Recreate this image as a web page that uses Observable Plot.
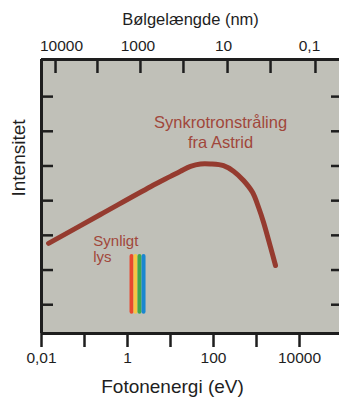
<!DOCTYPE html>
<html><head><meta charset="utf-8">
<script src="https://cdn.jsdelivr.net/npm/d3@7"></script>
<script src="https://cdn.jsdelivr.net/npm/@observablehq/plot@0.6"></script>
<style>html,body{margin:0;padding:0;background:#fff} svg{display:block}</style>
</head><body><div id="chart"></div>
<script>
// Bottom axis: photon energy (eV), log scale
const bottomTicks = [0.01, 0.1, 1, 10, 100, 1000, 10000];
const bottomLabels = ["0,01", "", "1", "", "100", "", "10000"];
// Top axis: wavelength (nm) ticks, positioned in eV as pictured
const topTicks = [0.0212, 0.2, 2, 20, 212, 2120, 23500];
const topLabelPos = [0.0292, 1.75, 171, 17100];
const topLabels = ["10000", "1000", "10", "0,1"];
const yTicks = [1, 2, 3, 4, 5, 6, 7];

// Synchrotron spectrum (arbitrary intensity)
const curveEv = [0.0146, 0.235, 3.43, 10, 17.1, 29.2, 49.9, 85.1, 171, 292, 499, 807, 1114, 1455, 2118, 2767];
const curveIntensity = [2.77, 3.60, 4.40, 4.70, 4.85, 4.99, 5.06, 5.06, 5.01, 4.85, 4.58, 4.24, 3.81, 3.38, 2.66, 2.13];

// Visible light bars
const visEv = [1.24, 1.53, 1.90, 2.36];
const visColors = ["#e8492f", "#f6c644", "#3ea84f", "#1a87d0"];
const visLow = [0.78, 0.78, 0.78, 0.78];
const visHigh = [2.39, 2.39, 2.39, 2.39];

// Annotations
const synchText = "Synkrotronstråling\nfra Astrid";
const synchEv = 146, synchY = 5.53;
const visText = "Synligt\nlys";
const visTextEv = 0.16, visTextY = 2.22;

const xDomain = [0.01, 85100];
const yDomain = [0.17, 8.07];
const bg = "#c0c0b8";
const ink = "#1e1e1e";
const brown = "#953b2f";
const noteColor = "#a0473b";

const curve = curveEv.map((e, i) => ({e, v: curveIntensity[i]}));
const vis = visEv.map((e, i) => ({e, c: visColors[i], lo: visLow[i], hi: visHigh[i]}));

const plot = Plot.plot({
  width: 339, height: 400,
  marginLeft: 41, marginRight: 0, marginTop: 59, marginBottom: 67,
  style: {fontFamily: "'Liberation Sans', Arial, sans-serif", background: "#fff", overflow: "visible", color: ink},
  x: {type: "log", domain: xDomain, axis: null},
  y: {domain: yDomain, axis: null},
  marks: [
    Plot.frame({fill: bg, stroke: null}),
    Plot.axisY(yTicks, {anchor: "left", tickSize: 12, dx: 12, fill: "none", strokeWidth: 2.5, stroke: ink, label: null}),
    Plot.axisY(yTicks, {anchor: "right", tickSize: 9, dx: -9, fill: "none", strokeWidth: 2.5, stroke: ink, label: null}),
    Plot.axisX(topTicks, {anchor: "top", tickSize: 13, dy: 13, fill: "none", strokeWidth: 2.5, stroke: ink, label: null}),
    Plot.text(topLabelPos, {x: d => d, text: d => topLabels[topLabelPos.indexOf(d)], frameAnchor: "top", dy: -9, lineAnchor: "bottom", fontSize: 15.5, fill: ink}),
    Plot.axisX(bottomTicks, {anchor: "bottom", tickSize: 14, tickPadding: 4, tickFormat: d => bottomLabels[bottomTicks.indexOf(d)], fontSize: 15.5, strokeWidth: 2.5, stroke: ink, fill: ink, label: null}),
    Plot.ruleX([xDomain[0]], {stroke: ink, strokeWidth: 3}),
    Plot.ruleY(yDomain, {stroke: ink, strokeWidth: 3}),
    Plot.ruleX(vis, {x: "e", y1: "lo", y2: "hi", stroke: "c", strokeWidth: 4, strokeLinecap: "round"}),
    Plot.line(curve, {x: "e", y: "v", stroke: brown, strokeWidth: 5, strokeLinecap: "round", strokeLinejoin: "round", curve: "catmull-rom"}),
    Plot.text([synchText], {x: () => synchEv, y: () => synchY, text: d => d, textAnchor: "middle", lineAnchor: "bottom", lineHeight: 1.18, fontSize: 16.5, fill: noteColor}),
    Plot.text([visText], {x: () => visTextEv, y: () => visTextY, text: d => d, textAnchor: "start", lineAnchor: "bottom", lineHeight: 1.1, fontSize: 15, fill: noteColor}),
    Plot.text(["Bølgelængde (nm)"], {text: d => d, frameAnchor: "top", dy: -35, lineAnchor: "bottom", fontSize: 16.5, fill: ink}),
    Plot.text(["Fotonenergi (eV)"], {text: d => d, frameAnchor: "bottom", dx: -18, dy: 59, lineAnchor: "bottom", fontSize: 19, fill: ink}),
    Plot.text(["Intensitet"], {text: d => d, frameAnchor: "left", dx: -22.5, rotate: -90, fontSize: 19, fill: ink})
  ]
});
document.getElementById("chart").appendChild(plot);
</script>
</body></html>
